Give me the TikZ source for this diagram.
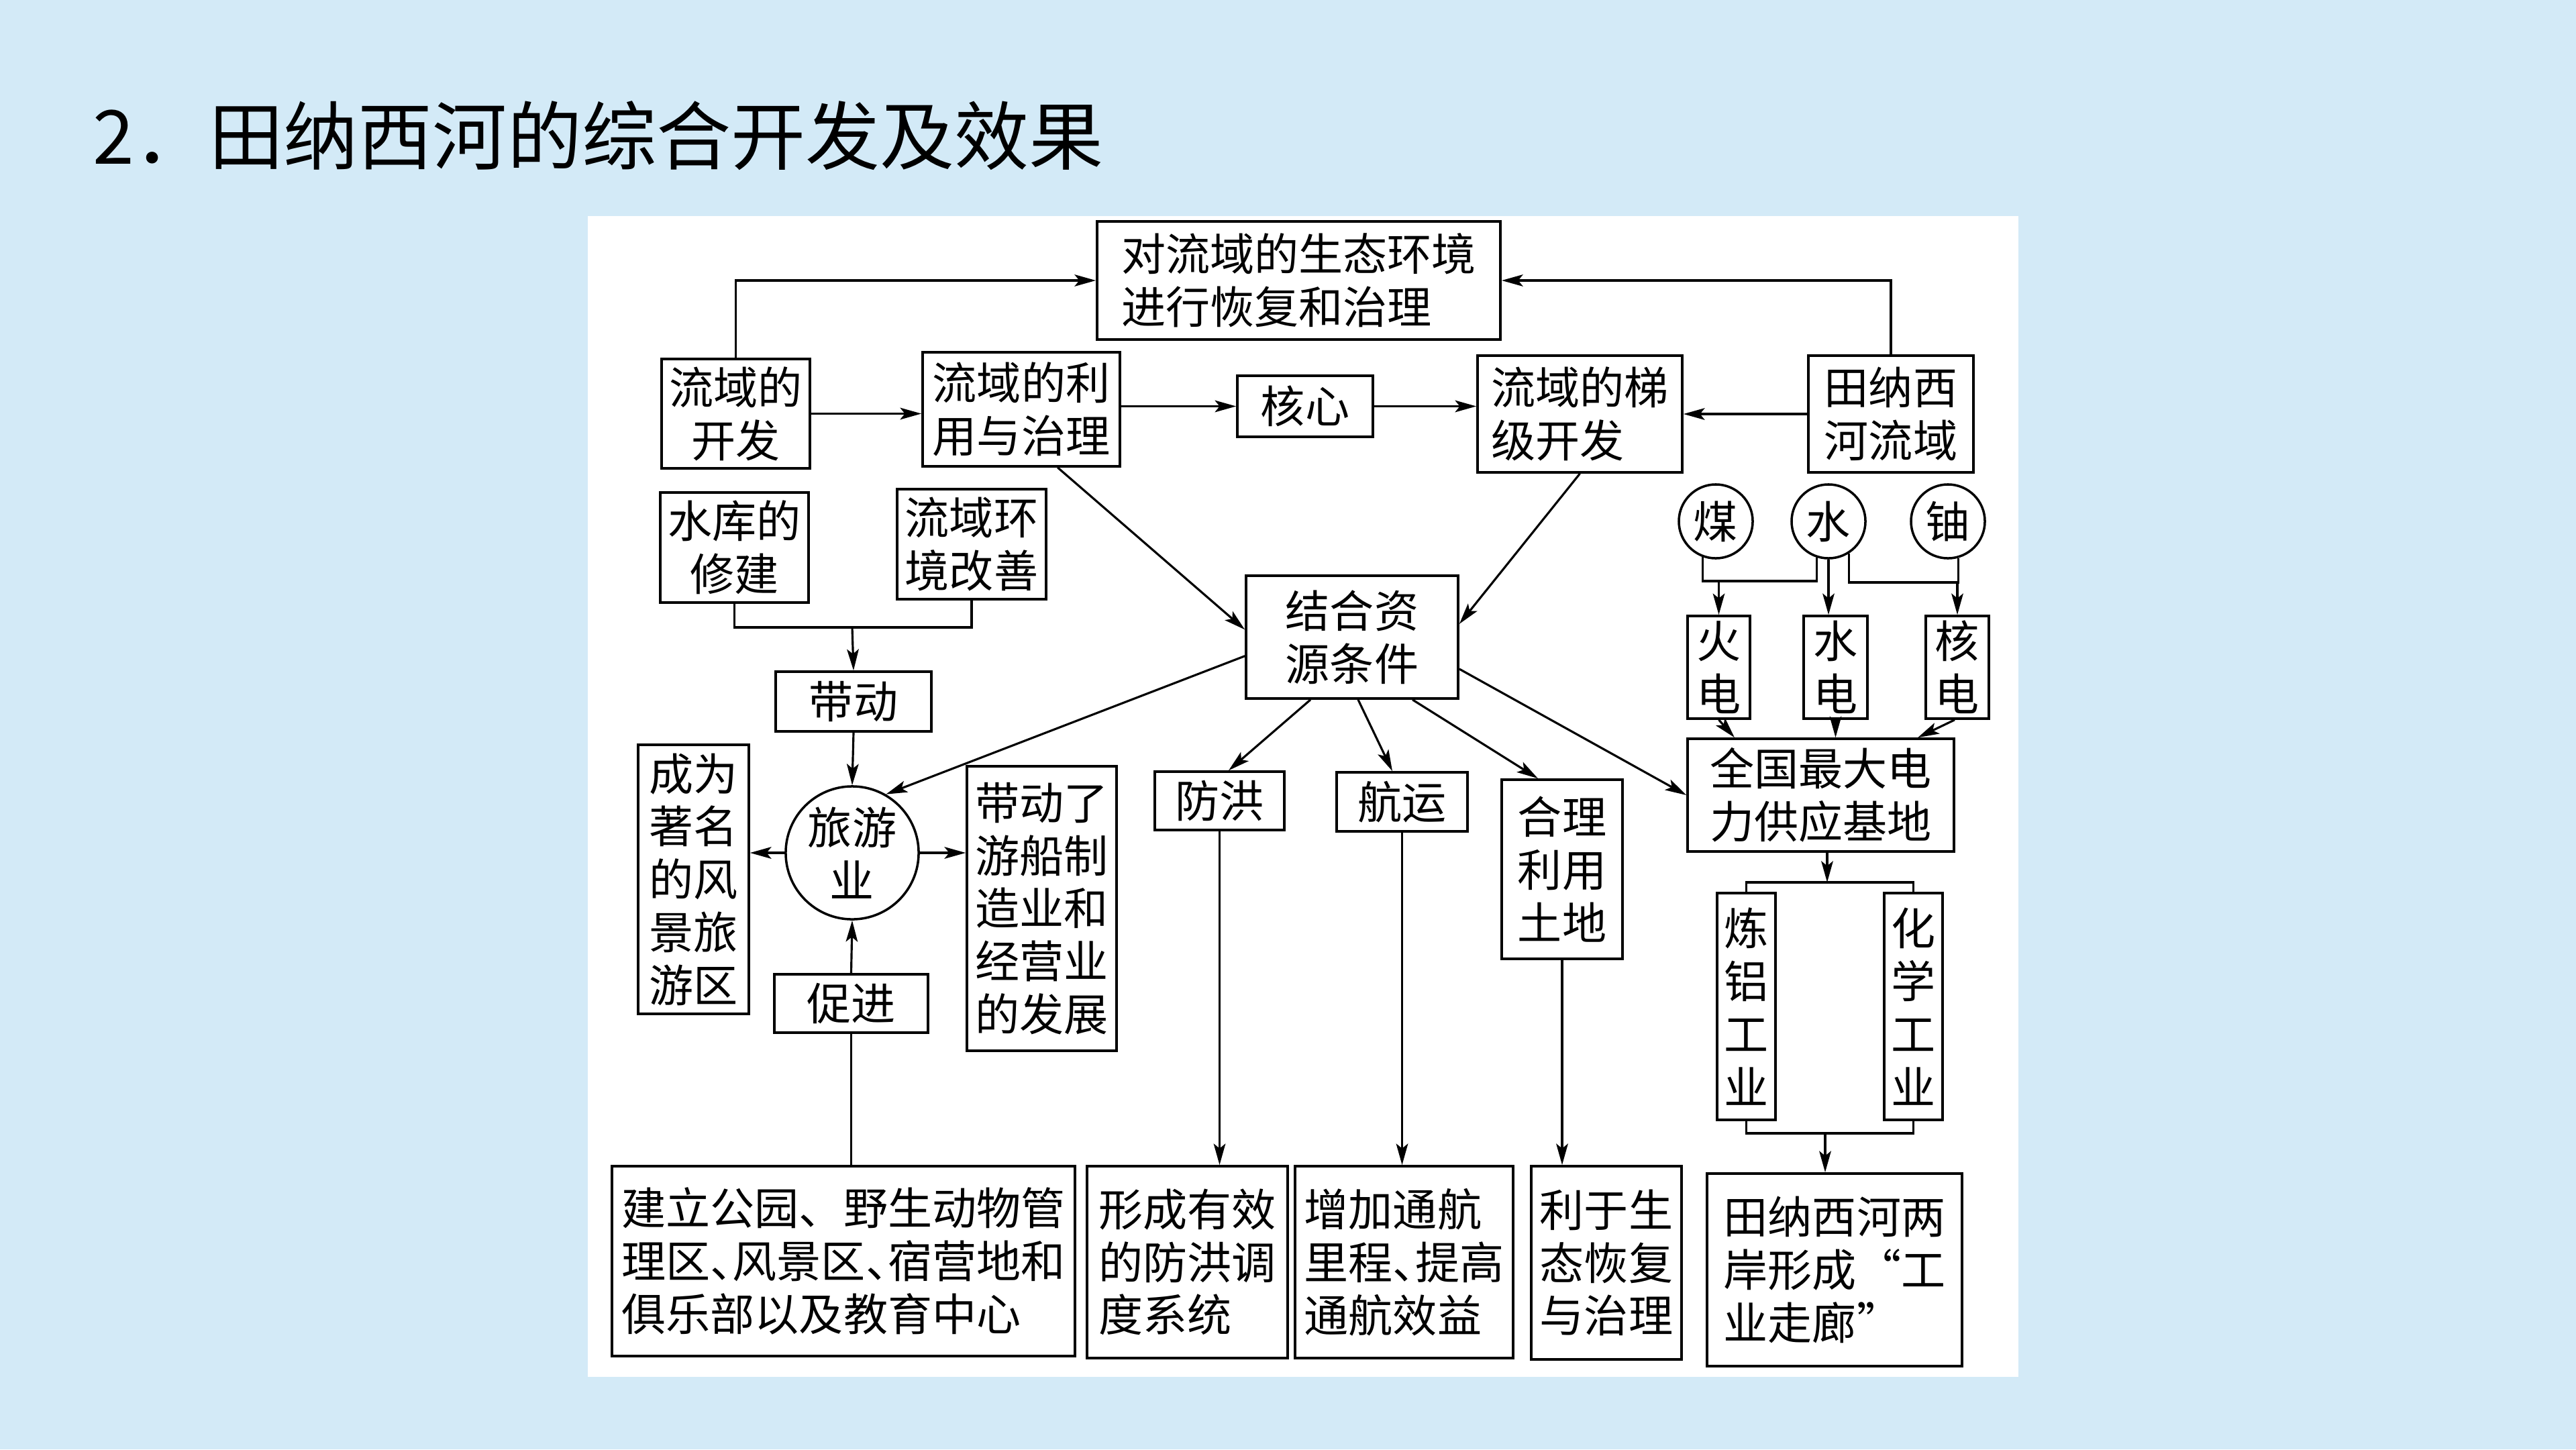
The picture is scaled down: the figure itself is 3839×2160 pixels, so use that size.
\documentclass[tikz,border=0pt]{standalone}
\usepackage{fontspec}
\usepackage{xcolor}
\usepackage{tikz}
\usetikzlibrary{arrows.meta}
\newfontfamily\zh{Noto Sans CJK SC}
\definecolor{ciel}{RGB}{211,234,247}
\newcommand{\bxfont}{\zh\fontsize{18.8pt}{22.4pt}\selectfont}
\newcommand{\demidun}{\makebox[0.5em][l]{、}}

\begin{document}
\begin{tikzpicture}[x=0.01cm, y=-0.01cm,
  bx/.style 2 args={rectangle, draw, line width=1pt, fill=white, minimum width=#1,
                    minimum height=#2, inner sep=0pt, align=center, font=\bxfont},
  rd/.style={circle, draw, line width=1pt, fill=white, minimum size=#1, inner sep=0pt,
             align=center, font=\bxfont},
  fl/.style={-{Stealth[length=9pt, width=5pt, inset=2pt]}, line width=0.9pt},
  ln/.style={line width=0.9pt}]

\useasboundingbox (0,0) rectangle (3839,2160);
\fill[ciel] (0,0) rectangle (3839,2160);
\fill[white] (876,322) rectangle (3008,2052);

\node[anchor=west, inner sep=0pt, font=\zh\fontsize{31.6pt}{36pt}\selectfont] (titre) at (138,202)
  {2．田纳西河的综合开发及效果};

% ── haut : développement du bassin ──
\node[bx={6.01cm}{1.76cm}, align=left] (eco) at (1935.5,418) {对流域的生态环境\\进行恢复和治理};
\node[bx={2.21cm}{1.63cm}] (dev) at (1096.5,616.5) {流域的\\开发};
\node[bx={2.94cm}{1.70cm}] (use) at (1522,610) {流域的利\\用与治理};
\node[bx={2.02cm}{0.91cm}] (core) at (1945,605.5) {核心};
\node[bx={3.05cm}{1.74cm}, align=left] (cascade) at (2354.5,617) {流域的梯\\级开发};
\node[bx={2.46cm}{1.74cm}] (basin) at (2818,617) {田纳西\\河流域};

% ── gauche : tourisme ──
\node[bx={2.21cm}{1.64cm}] (res) at (1094.5,816) {水库的\\修建};
\node[bx={2.22cm}{1.64cm}] (env) at (1448,811) {流域环\\境改善};
\node[bx={2.32cm}{0.89cm}] (drive) at (1272,1045.5) {带动};
\node[rd=1.98cm] (tour) at (1270,1271) {旅游\\业};
\node[bx={1.65cm}{4.01cm}] (scenic) at (1033.5,1310.5) {成为\\著名\\的风\\景旅\\游区};
\node[bx={2.23cm}{4.24cm}] (boat) at (1552.5,1354) {带动了\\游船制\\造业和\\经营业\\的发展};
\node[bx={2.29cm}{0.87cm}] (promote) at (1268.5,1495.5) {促进};
\node[bx={6.90cm}{2.83cm}, align=left] (park) at (1257,1879.5)
  {建立公园、野生动物管\\理区\demidun 风景区\demidun 宿营地和\\俱乐部以及教育中心};

% ── centre : ressources ──
\node[bx={3.16cm}{1.83cm}] (combine) at (2015,949.5) {结合资\\源条件};
\node[bx={1.93cm}{0.87cm}] (flood) at (1817.5,1193.5) {防洪};
\node[bx={2.99cm}{2.86cm}, align=left] (floodsys) at (1769.5,1881) {形成有效\\的防洪调\\度系统};
\node[bx={1.95cm}{0.88cm}] (ship) at (2089.5,1195) {航运};
\node[bx={3.25cm}{2.86cm}, align=left] (shipsys) at (2092.5,1881) {增加通航\\里程\demidun 提高\\通航效益};
\node[bx={1.80cm}{2.67cm}] (land) at (2328,1295.5) {合理\\利用\\土地};
\node[bx={2.24cm}{2.88cm}] (landsys) at (2394,1882) {利于生\\态恢复\\与治理};

% ── droite : énergie et industrie ──
\node[rd=1.10cm] (coal) at (2557,777) {煤};
\node[rd=1.10cm] (water) at (2725,777) {水};
\node[rd=1.10cm] (uranium) at (2903,777) {铀};
\node[bx={0.93cm}{1.53cm}] (thermal) at (2561.5,994.5) {火\\电};
\node[bx={0.95cm}{1.53cm}] (hydro) at (2735.5,994.5) {水\\电};
\node[bx={0.94cm}{1.53cm}] (nuclear) at (2917,994.5) {核\\电};
\node[bx={3.97cm}{1.68cm}] (power) at (2713.5,1185) {全国最大电\\力供应基地};
\node[bx={0.87cm}{3.38cm}] (alu) at (2602.5,1500) {炼\\铝\\工\\业};
\node[bx={0.87cm}{3.38cm}] (chem) at (2851.5,1500) {化\\学\\工\\业};
\node[bx={3.80cm}{2.87cm}, align=left] (corridor) at (2734,1892.5) {田纳西河两\\岸形成“工\\业走廊”};

% ── liaisons ──
\coordinate (jn) at (1270,935);
\coordinate (jl) at (2555,866);
\coordinate (jr) at (2902,868);
\coordinate (jp) at (2723,1315);
\coordinate (jb) at (2720,1689);

\draw[fl] (dev.north) |- (eco.west);
\draw[fl] (basin.north) |- (eco.east);
\draw[fl] (dev.east) -- (dev.east -| use.west);
\draw[fl] (core.west -| use.east) -- (core.west);
\draw[fl] (core.east) -- (core.east -| cascade.west);
\draw[fl] (basin.west) -- (cascade.east);
\draw[fl] (use.-58) -- (combine.176);
\draw[fl] (cascade.south) -- (combine.7);

\draw[ln] (res.south) |- (jn) -| (env.south);
\draw[fl] (jn) -- (drive.north);
\draw[fl] (drive.south) -- (tour.north);
\draw[fl] (combine.190) -- (tour.60);
\draw[fl] (tour.west) -- (tour.west -| scenic.east);
\draw[fl] (tour.east) -- (tour.east -| boat.west);
\draw[fl] (promote.north) -- (tour.south);
\draw[ln] (promote.south) -- (promote.south |- park.north);

\draw[fl] ([xshift=-0.62cm]combine.south) -- ([xshift=0.135cm]flood.north);
\draw[fl] ([xshift=0.09cm]combine.south) -- ([xshift=-0.145cm]ship.north);
\draw[fl] ([xshift=0.9cm]combine.south) -- ([xshift=-0.36cm]land.north);
\draw[fl] ([yshift=-0.475cm]combine.east) -- (power.west);
\draw[fl] (flood.south) -- (flood.south |- floodsys.north);
\draw[fl] (ship.south) -- (ship.south |- shipsys.north);
\draw[fl] (land.south) -- (land.south |- landsys.north);

\draw[ln] (coal.250) |- (water.252 |- jl) -- (water.252);
\draw[fl] (thermal.north |- jl) -- (thermal.north);
\draw[ln] (water.302) |- (uranium.286 |- jr) -- (uranium.286);
\draw[fl] (nuclear.north |- jr) -- (nuclear.north);
\draw[fl] (water.south) -- (water.south |- hydro.north);
\draw[fl] (thermal.south) -- ([xshift=-1.285cm]power.north);
\draw[fl] (hydro.south) -- (hydro.south |- power.north);
\draw[fl] ([xshift=-0.04cm]nuclear.south) -- ([xshift=1.445cm]power.north);
\draw[fl] (power.south -| jp) -- (jp);
\draw[ln] (alu.north) |- (jp) -| (chem.north);
\draw[ln] (alu.south) |- (jb) -| (chem.south);
\draw[fl] (jb) -- (jb |- corridor.north);

\end{tikzpicture}
\end{document}
